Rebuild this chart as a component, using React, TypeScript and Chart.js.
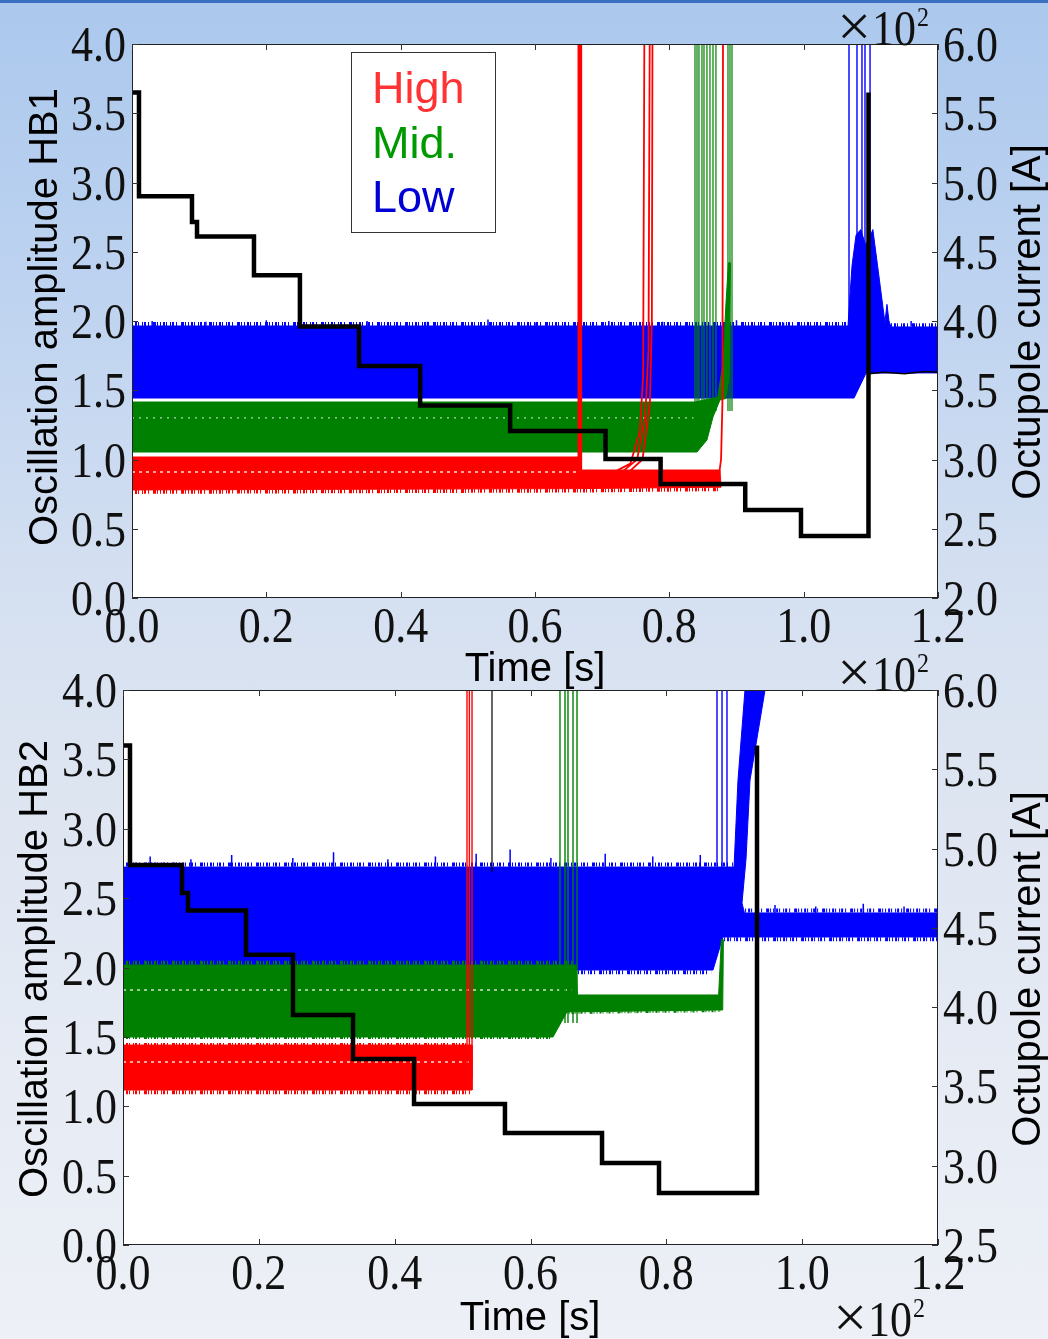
import React, { useEffect, useRef } from "react";
import { Chart, registerables } from "chart.js";

Chart.register(...registerables);

const W = 1048;
const H = 1339;

// ---------------- tick values and labels ----------------
const TIME_TICKS = [0, 0.2, 0.4, 0.6, 0.8, 1.0, 1.2];
const TIME_TICK_LABELS = ["0.0", "0.2", "0.4", "0.6", "0.8", "1.0", "1.2"];
const AMP_TICKS = [0, 0.5, 1, 1.5, 2, 2.5, 3, 3.5, 4];
const AMP_TICK_LABELS = ["0.0", "0.5", "1.0", "1.5", "2.0", "2.5", "3.0", "3.5", "4.0"];
const CUR1_TICKS = [2, 2.5, 3, 3.5, 4, 4.5, 5, 5.5, 6];
const CUR1_TICK_LABELS = ["2.0", "2.5", "3.0", "3.5", "4.0", "4.5", "5.0", "5.5", "6.0"];
const CUR2_TICKS = [2.5, 3, 3.5, 4, 4.5, 5, 5.5, 6];
const CUR2_TICK_LABELS = ["2.5", "3.0", "3.5", "4.0", "4.5", "5.0", "5.5", "6.0"];

const LEGEND_LABELS = ["High", "Mid.", "Low"];
const LEGEND_COLORS = ["#ff3333", "#009a00", "#0000d4"];

const RED = "#ff0000";
const GREEN = "#008000";
const BLUE = "#0000ff";

// ---------------- panel 1 (HB1) ----------------
// octupole current (x1e2 A) vs time (x1e2 s)
const HB1_CURRENT = [
  [0, 5.65], [0.0104, 5.65], [0.0104, 4.9], [0.0893, 4.9], [0.0893, 4.715], [0.0968, 4.715],
  [0.0968, 4.61], [0.1816, 4.61], [0.1816, 4.33], [0.25, 4.33], [0.25, 3.96], [0.338, 3.96],
  [0.338, 3.675], [0.429, 3.675], [0.429, 3.39], [0.563, 3.39], [0.563, 3.206], [0.705, 3.206],
  [0.705, 3.004], [0.787, 3.004], [0.787, 2.823], [0.913, 2.823], [0.913, 2.635], [0.996, 2.635],
  [0.996, 2.448], [1.096, 2.448], [1.096, 5.65], [1.097, 3.62],
];
const HB1_CURRENT_TAIL = [[1.097, 3.62], [1.12, 3.63], [1.15, 3.62], [1.18, 3.635], [1.2, 3.63]];

// amplitude bands (outline: upper edge left->right, lower edge right->left)
const HB1_LOW = [
  [0, 1.964], [1.066, 1.964], [1.072, 2.4], [1.078, 2.62], [1.085, 2.66], [1.092, 2.55],
  [1.098, 2.6], [1.103, 2.66], [1.11, 2.4], [1.118, 2.1], [1.121, 1.99], [1.124, 2.12],
  [1.127, 2.0], [1.13, 1.957], [1.2, 1.957], [1.2, 1.625], [1.093, 1.625], [1.075, 1.444], [0, 1.444],
];
const HB1_MID = [
  [0, 1.415], [0.838, 1.415], [0.872, 1.45], [0.88, 1.7], [0.884, 2.1], [0.888, 2.42],
  [0.891, 2.42], [0.889, 1.6], [0.884, 1.44], [0.8754, 1.43], [0.865, 1.307], [0.856, 1.141],
  [0.8412, 1.054], [0, 1.054],
];
const HB1_HIGH = [
  [0, 1.018], [0.664, 1.018], [0.667, 0.924], [0.8754, 0.924], [0.877, 0.8], [0.667, 0.79], [0, 0.78],
];
// ragged noise fringes along the outer band edges
const HB1_LOW_FRINGE = [[0, 1.978], [1.064, 1.978], [null, null], [1.13, 1.97], [1.2, 1.97]];
const HB1_LOW_TOP_SPIKES = [
  [0.03, 2.0], [0.11, 1.995], [0.2, 2.005], [0.27, 1.99], [0.35, 2.0], [0.44, 1.995],
  [0.53, 2.01], [0.6, 1.99], [0.71, 2.0], [0.79, 1.995], [0.9, 2.005], [0.97, 1.99], [1.16, 2.0],
];
const HB1_HIGH_FRINGE = [[0, 0.766], [0.667, 0.776], [0.874, 0.786]];
const HB1_MID_DOTS = [[0, 1.3], [0.836, 1.3]];
const HB1_HIGH_DOTS = [[0, 0.91], [0.662, 0.91]];
const HB1_LOW_SPIKE_X = [1.0675, 1.0794, 1.0868, 1.0913, 1.0988];
const HB1_MID_SPIKE_X = [0.8382, 0.8412, 0.8441, 0.8486, 0.8516, 0.856, 0.8605, 0.865, 0.8694, 0.8873, 0.8903, 0.8933];
const HB1_HIGH_SPIKE_X = [0.6645, 0.666, 0.6675, 0.669];
const HB1_HIGH_RAMPS = [
  [[0.722, 0.92], [0.742, 0.97], [0.756, 1.2], [0.761, 1.6], [0.763, 4.3]],
  [[0.732, 0.92], [0.752, 1.0], [0.764, 1.3], [0.769, 1.8], [0.771, 4.3]],
  [[0.742, 0.92], [0.76, 1.0], [0.771, 1.4], [0.774, 2.0], [0.775, 4.3]],
  [[0.872, 0.82], [0.877, 1.0], [0.879, 1.4], [0.88, 4.3]],
];

// ---------------- panel 2 (HB2) ----------------
const HB2_CURRENT = [
  [0, 5.65], [0.0103, 5.65], [0.0103, 4.896], [0.0869, 4.896], [0.0869, 4.72], [0.0957, 4.72],
  [0.0957, 4.61], [0.1811, 4.61], [0.1811, 4.33], [0.2503, 4.33], [0.2503, 3.95], [0.3387, 3.95],
  [0.3387, 3.673], [0.4285, 3.673], [0.4285, 3.389], [0.5624, 3.389], [0.5624, 3.206], [0.7053, 3.206],
  [0.7053, 3.017], [0.7892, 3.017], [0.7892, 2.828], [0.9335, 2.828], [0.9335, 5.65],
];
const HB2_CURRENT_SPIKE = [[0.5433, 4.85], [0.5433, 6.3]];

const HB2_LOW = [
  [0, 2.724], [0.8997, 2.724], [0.9055, 3.35], [0.9158, 4.0], [0.918, 4.3], [0.948, 4.3],
  [0.9453, 4.0], [0.9232, 3.35], [0.9173, 2.78], [0.9114, 2.465], [0.915, 2.393], [1.2, 2.393],
  [1.2, 2.22], [0.8834, 2.22], [0.8687, 1.982], [0, 1.982],
];
const HB2_MID = [
  [0, 2.018], [0.667, 2.018], [0.669, 1.802], [0.877, 1.802], [0.881, 2.2], [0.884, 2.2],
  [0.883, 1.694], [0.6537, 1.68], [0.6331, 1.499], [0, 1.499],
];
const HB2_HIGH = [[0, 1.441], [0.5139, 1.441], [0.5139, 1.117], [0, 1.117]];
const HB2_LOW_FRINGE = [
  [0, 2.742], [0.898, 2.742], [null, null], [0.916, 2.41], [1.2, 2.41], [null, null],
  [0.885, 2.203], [1.2, 2.203], [null, null], [0.67, 1.966], [0.866, 1.966],
];
const HB2_LOW_TOP_SPIKES = [
  [0.04, 2.8], [0.1, 2.78], [0.16, 2.81], [0.25, 2.79], [0.31, 2.83], [0.39, 2.78],
  [0.46, 2.8], [0.52, 2.82], [0.57, 2.85], [0.63, 2.79], [0.71, 2.82], [0.78, 2.8], [0.85, 2.81],
  [0.96, 2.45], [1.02, 2.44], [1.09, 2.46], [1.15, 2.44],
];
const HB2_MID_FRINGE = [[0, 2.034], [0.664, 2.034], [null, null], [0.67, 1.785], [0.876, 1.785]];
const HB2_MID_LOW_FRINGE = [[0, 1.492], [0.632, 1.492], [null, null], [0.656, 1.672], [0.88, 1.686]];
const HB2_HIGH_TOP_FRINGE = [[0, 1.448], [0.512, 1.448]];
const HB2_HIGH_FRINGE = [[0, 1.101], [0.512, 1.101]];
const HB2_MID_DOTS = [[0, 1.838], [0.66, 1.838]];
const HB2_HIGH_DOTS = [[0, 1.319], [0.51, 1.319]];
const HB2_LOW_SPIKE_X = [0.8746, 0.882, 0.8893];
const HB2_MID_SPIKE_X = [0.6434, 0.6508, 0.6552, 0.6626, 0.6685];
const HB2_HIGH_SPIKE_X = [0.5065, 0.51, 0.5139];

// ---------------- helpers ----------------
const SERIF = "'Liberation Serif', 'Times New Roman', serif";
const SANS = "'Liberation Sans', Arial, sans-serif";
const TICK_FONT = `44px ${SERIF}`;
const SY = 1.13;
const FRINGE_DASH = [1, 2, 2, 1, 1, 3, 1, 1, 2, 2, 1, 4, 3, 1, 1, 2];

const pts = (arr: any[][]) => arr.map(([x, y]) => ({ x: x === null ? NaN : x, y }));
const spikeData = (xs: number[], y0: number, y1: number) =>
  xs.flatMap((x) => [{ x, y: y0 }, { x, y: y1 }, { x, y: null as any }]);
const topSpikeData = (arr: number[][], base: number) =>
  arr.flatMap(([x, y]) => [{ x, y: base }, { x, y }, { x, y: null as any }]);
const polyData = (ls: number[][][]) =>
  ls.flatMap((l) => [...pts(l), { x: l[l.length - 1][0], y: null as any }]);

const common = { pointRadius: 0, pointHoverRadius: 0, tension: 0, spanGaps: false, clip: 0 };

function bandDs(data: number[][], color: string, order: number) {
  return { ...common, data: pts(data), borderColor: color, backgroundColor: color, borderWidth: 1, fill: "shape", order, yAxisID: "y" };
}
function lineDs(data: any[], color: string, width: number, order: number, axis = "y", dash: number[] = []) {
  return { ...common, data, borderColor: color, backgroundColor: color, borderWidth: width, fill: false, order, yAxisID: axis, borderDash: dash };
}

function txt(ctx: CanvasRenderingContext2D, s: string, x: number, y: number, font: string, color: string,
  align: CanvasTextAlign, baseline: CanvasTextBaseline, rot = 0, sy = 1) {
  ctx.save();
  ctx.translate(x, y);
  if (rot) ctx.rotate(rot);
  ctx.scale(1, sy);
  ctx.font = font;
  ctx.fillStyle = color;
  ctx.textAlign = align;
  ctx.textBaseline = baseline;
  ctx.fillText(s, 0, 0);
  ctx.restore();
}

type Spec = {
  top: number; bottom: number; left: number; right: number;
  curMin: number; curMax: number; curTicks: number[]; curLabels: string[];
  ampTitle: string; ampTitlePos: number[]; curTitlePos: number[]; timeTitlePos: number[];
  x10: number[][]; legend: boolean; datasets: () => any[];
};

const PANEL1: Spec = {
  top: 44, bottom: 598, left: 132, right: 938,
  curMin: 2, curMax: 6, curTicks: CUR1_TICKS, curLabels: CUR1_TICK_LABELS,
  ampTitle: "Oscillation amplitude HB1", ampTitlePos: [57, 317], curTitlePos: [1040, 322], timeTitlePos: [535, 681],
  x10: [[916, 45]], legend: true,
  datasets: () => [
    lineDs(pts(HB1_CURRENT), "#000", 4.5, 0, "y2"),
    lineDs(pts(HB1_CURRENT_TAIL), "#000", 1.5, 1, "y2"),
    lineDs(spikeData(HB1_HIGH_SPIKE_X, 0.8, 4.3), RED, 1.6, 2),
    lineDs(polyData(HB1_HIGH_RAMPS), RED, 1.8, 2),
    lineDs(pts(HB1_HIGH_DOTS), "rgba(255,255,255,0.85)", 1.5, 3, "y", [3, 4]),
    lineDs(pts(HB1_HIGH_FRINGE), RED, 4, 4, "y", FRINGE_DASH),
    bandDs(HB1_HIGH, RED, 4),
    lineDs(spikeData(HB1_MID_SPIKE_X, 1.35, 4.3), GREEN, 1.2, 5),
    lineDs(pts(HB1_MID_DOTS), "rgba(255,255,255,0.7)", 1.2, 6, "y", [2, 5]),
    bandDs(HB1_MID, GREEN, 7),
    lineDs(spikeData(HB1_LOW_SPIKE_X, 1.9, 4.3), BLUE, 1.4, 8),
    lineDs(topSpikeData(HB1_LOW_TOP_SPIKES, 1.96), BLUE, 1.5, 9),
    lineDs(pts(HB1_LOW_FRINGE), BLUE, 4, 9, "y", FRINGE_DASH),
    bandDs(HB1_LOW, BLUE, 9),
  ],
};

const PANEL2: Spec = {
  top: 690, bottom: 1245, left: 123, right: 938,
  curMin: 2.5, curMax: 6, curTicks: CUR2_TICKS, curLabels: CUR2_TICK_LABELS,
  ampTitle: "Oscillation amplitude HB2", ampTitlePos: [47, 969], curTitlePos: [1040, 969], timeTitlePos: [530, 1330],
  x10: [[916, 691], [912, 1336]], legend: false,
  datasets: () => [
    lineDs(pts(HB2_CURRENT), "#000", 4.5, 0, "y2"),
    lineDs(pts(HB2_CURRENT_SPIKE), "#000", 1.2, 1, "y2"),
    lineDs(spikeData(HB2_HIGH_SPIKE_X, 1.2, 4.3), RED, 1.4, 2),
    lineDs(pts(HB2_HIGH_DOTS), "rgba(255,255,255,0.85)", 1.5, 3, "y", [3, 4]),
    lineDs(pts(HB2_HIGH_FRINGE), RED, 4, 4, "y", FRINGE_DASH),
    lineDs(pts(HB2_HIGH_TOP_FRINGE), RED, 2, 4, "y", FRINGE_DASH),
    bandDs(HB2_HIGH, RED, 4),
    lineDs(spikeData(HB2_MID_SPIKE_X, 1.6, 4.3), GREEN, 1.4, 5),
    lineDs(pts(HB2_MID_DOTS), "rgba(255,255,255,0.8)", 1.5, 6, "y", [3, 4]),
    lineDs(pts(HB2_MID_FRINGE), GREEN, 4, 7, "y", FRINGE_DASH),
    lineDs(pts(HB2_MID_LOW_FRINGE), GREEN, 2, 7, "y", FRINGE_DASH),
    bandDs(HB2_MID, GREEN, 7),
    lineDs(spikeData(HB2_LOW_SPIKE_X, 2.6, 4.3), BLUE, 1.4, 8),
    lineDs(topSpikeData(HB2_LOW_TOP_SPIKES, 2.39), BLUE, 1.5, 9),
    lineDs(pts(HB2_LOW_FRINGE), BLUE, 4, 9, "y", FRINGE_DASH),
    bandDs(HB2_LOW, BLUE, 9),
  ],
};

function makeDeco(spec: Spec) {
  return {
    id: "deco",
    beforeDraw(chart: any) {
      const { ctx, chartArea: a } = chart;
      ctx.save();
      ctx.fillStyle = "#ffffff";
      ctx.fillRect(a.left, a.top, a.right - a.left, a.bottom - a.top);
      ctx.restore();
    },
    afterDraw(chart: any) {
      const { ctx, chartArea: a } = chart;
      const xs = chart.scales.x, ys = chart.scales.y, y2 = chart.scales.y2;
      ctx.save();
      // frame
      ctx.strokeStyle = "#222";
      ctx.lineWidth = 1;
      ctx.strokeRect(Math.round(a.left) + 0.5, Math.round(a.top) + 0.5, Math.round(a.right - a.left) - 1, Math.round(a.bottom - a.top) - 1);
      // inward ticks
      ctx.strokeStyle = "#333";
      ctx.beginPath();
      const TL = 6;
      TIME_TICKS.forEach((v) => {
        const px = Math.round(xs.getPixelForValue(v)) + 0.5;
        ctx.moveTo(px, a.top); ctx.lineTo(px, a.top + TL);
        ctx.moveTo(px, a.bottom); ctx.lineTo(px, a.bottom - TL);
      });
      AMP_TICKS.forEach((v) => {
        const py = Math.round(ys.getPixelForValue(v)) + 0.5;
        ctx.moveTo(a.left, py); ctx.lineTo(a.left + TL, py);
      });
      spec.curTicks.forEach((v) => {
        const py = Math.round(y2.getPixelForValue(v)) + 0.5;
        ctx.moveTo(a.right, py); ctx.lineTo(a.right - TL, py);
      });
      ctx.stroke();
      ctx.restore();

      // tick labels
      AMP_TICKS.forEach((v, i) => {
        txt(ctx, AMP_TICK_LABELS[i], a.left - 6, ys.getPixelForValue(v) + 17, TICK_FONT, "#111", "right", "alphabetic", 0, SY);
      });
      spec.curTicks.forEach((v, i) => {
        txt(ctx, spec.curLabels[i], a.right + 5, y2.getPixelForValue(v) + 17, TICK_FONT, "#111", "left", "alphabetic", 0, SY);
      });
      TIME_TICKS.forEach((v, i) => {
        txt(ctx, TIME_TICK_LABELS[i], xs.getPixelForValue(v), a.bottom + 44, TICK_FONT, "#111", "center", "alphabetic", 0, SY);
      });
      // x10^2 multipliers
      spec.x10.forEach(([rx, by]) => {
        txt(ctx, "10", rx, by, TICK_FONT, "#111", "right", "alphabetic", 0, SY);
        txt(ctx, "\u00d7", rx - 45, by + 1, `60px ${SERIF}`, "#111", "right", "alphabetic", 0, 1);
        txt(ctx, "2", rx + 1, by - 19, `24px ${SERIF}`, "#111", "left", "alphabetic", 0, SY);
      });
      // axis titles
      const TF = `40px ${SANS}`;
      txt(ctx, "Time [s]", spec.timeTitlePos[0], spec.timeTitlePos[1], TF, "#000", "center", "alphabetic");
      txt(ctx, spec.ampTitle, spec.ampTitlePos[0], spec.ampTitlePos[1], TF, "#000", "center", "alphabetic", -Math.PI / 2);
      txt(ctx, "Octupole current [A]", spec.curTitlePos[0], spec.curTitlePos[1], TF, "#000", "center", "alphabetic", -Math.PI / 2);

      // legend box
      if (spec.legend) {
        ctx.save();
        ctx.fillStyle = "#fff";
        ctx.fillRect(351.5, 52.5, 144, 180);
        ctx.strokeStyle = "#333";
        ctx.lineWidth = 1;
        ctx.strokeRect(351.5, 52.5, 144, 180);
        ctx.restore();
        const bases = [103, 158, 212];
        LEGEND_LABELS.forEach((s, i) => {
          txt(ctx, s, 372, bases[i], `45px ${SANS}`, LEGEND_COLORS[i], "left", "alphabetic");
        });
      }
    },
  };
}

function PanelCanvas({ spec }: { spec: Spec }) {
  const ref = useRef<HTMLCanvasElement | null>(null);
  useEffect(() => {
    if (!ref.current) return;
    const XH = 1;
    const chart = new Chart(ref.current, {
      type: "line",
      data: { datasets: spec.datasets() },
      options: {
        animation: false,
        responsive: false,
        maintainAspectRatio: false,
        devicePixelRatio: 1,
        events: [],
        layout: { autoPadding: false, padding: { top: spec.top, left: 0, right: 0, bottom: H - spec.bottom - XH } },
        plugins: { legend: { display: false }, tooltip: { enabled: false }, title: { display: false } },
        scales: {
          x: {
            type: "linear", min: 0, max: 1.2,
            ticks: { display: false }, grid: { display: false }, border: { display: false },
            afterFit: (s: any) => { s.height = XH; },
          },
          y: {
            type: "linear", position: "left", min: 0, max: 4,
            ticks: { display: false }, grid: { display: false }, border: { display: false },
            afterFit: (s: any) => { s.width = spec.left; },
          },
          y2: {
            type: "linear", position: "right", min: spec.curMin, max: spec.curMax,
            ticks: { display: false }, grid: { display: false }, border: { display: false },
            afterFit: (s: any) => { s.width = W - spec.right; },
          },
        },
      } as any,
      plugins: [makeDeco(spec)],
    } as any);
    return () => chart.destroy();
  }, [spec]);
  return <canvas ref={ref} width={W} height={H} style={{ position: "absolute", left: 0, top: 0, width: W, height: H }} />;
}

export default function App() {
  return (
    <div
      style={{
        position: "absolute", left: 0, top: 0, width: W, height: H, overflow: "hidden",
        background: "linear-gradient(to bottom, #abc8ed 0%, #bcd2f0 20%, #d3dff1 42%, #dce4f1 55%, #e6ebf4 80%, #edf0f6 100%)",
      }}
    >
      <div style={{ position: "absolute", left: 0, top: 0, width: W, height: 3, background: "#3b6fbf" }} />
      <PanelCanvas spec={PANEL1} />
      <PanelCanvas spec={PANEL2} />
    </div>
  );
}
